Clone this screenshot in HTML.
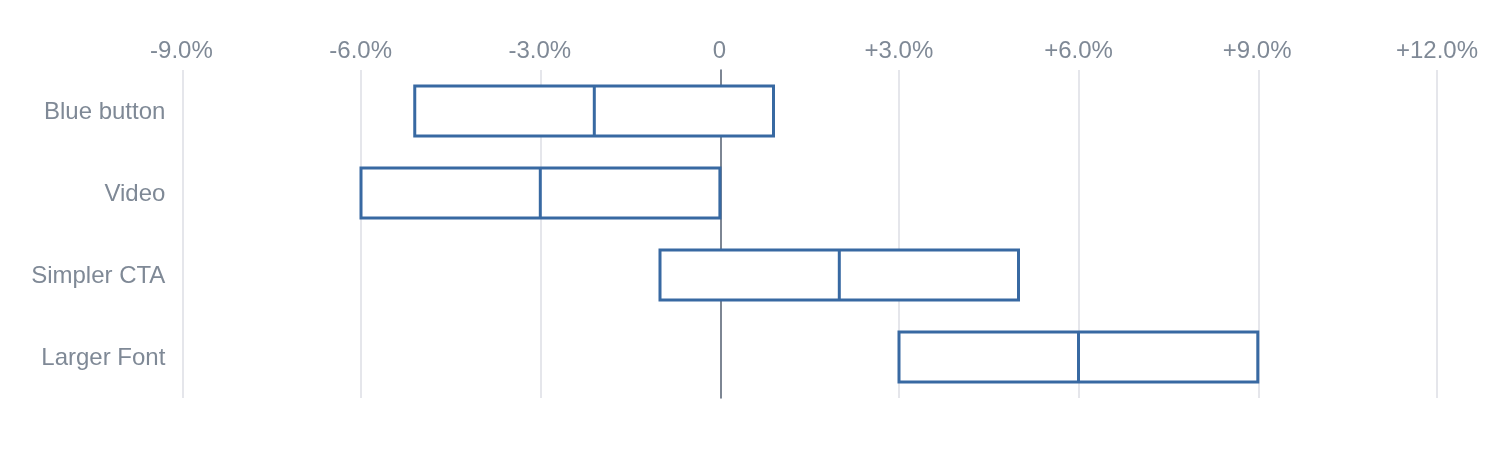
<!DOCTYPE html>
<html lang="en">
<head>
<meta charset="utf-8">
<title>Chart</title>
<style>
html,body{margin:0;padding:0;background:#fff;}
body{width:1512px;height:458px;overflow:hidden;}
svg{display:block;}
text{font-family:"Liberation Sans",Arial,Helvetica,sans-serif;font-size:24px;fill:#7f8996;}
.g{fill:#e5e6eb;shape-rendering:crispEdges;}
.z{fill:#7d8693;shape-rendering:crispEdges;}
.b{fill:#fff;stroke:#3869a2;stroke-width:3;}
.m{stroke:#3869a2;stroke-width:3;fill:none;}
</style>
</head>
<body>
<svg width="1512" height="458" viewBox="0 0 1512 458">
<rect width="1512" height="458" fill="#fff"/>
<g>
<rect class="g" x="182" y="70" width="2" height="328"/>
<rect class="g" x="360" y="70" width="2" height="328"/>
<rect class="g" x="540" y="70" width="2" height="328"/>
<rect x="720" y="69" width="2" height="1" fill="#b9bfc9" shape-rendering="crispEdges"/>
<rect x="720" y="398" width="2" height="1" fill="#b9bfc9" shape-rendering="crispEdges"/>
<rect class="z" x="720" y="70" width="2" height="328"/>
<rect class="g" x="898" y="70" width="2" height="328"/>
<rect class="g" x="1078" y="70" width="2" height="328"/>
<rect class="g" x="1258" y="70" width="2" height="328"/>
<rect class="g" x="1436" y="70" width="2" height="328"/>
</g>
<g text-anchor="middle">
<text x="181.4" y="58">-9.0%</text>
<text x="360.65" y="58">-6.0%</text>
<text x="539.8" y="58">-3.0%</text>
<text x="719.5" y="58">0</text>
<text x="898.9" y="58">+3.0%</text>
<text x="1078.5" y="58">+6.0%</text>
<text x="1257.2" y="58">+9.0%</text>
<text x="1437" y="58">+12.0%</text>
</g>
<g text-anchor="end">
<text x="165.4" y="119">Blue button</text>
<text x="165.4" y="201">Video</text>
<text x="165.4" y="283">Simpler CTA</text>
<text x="165.4" y="365">Larger Font</text>
</g>
<g>
<rect class="b" x="414.75" y="86" width="358.75" height="50"/>
<line class="m" x1="594.3" y1="86" x2="594.3" y2="136"/>
<rect class="b" x="361" y="168" width="358.9" height="50"/>
<line class="m" x1="540.3" y1="168" x2="540.3" y2="218"/>
<rect class="b" x="660" y="250" width="358.5" height="50"/>
<line class="m" x1="839.3" y1="250" x2="839.3" y2="300"/>
<rect class="b" x="899" y="332" width="358.8" height="50"/>
<line class="m" x1="1078.5" y1="332" x2="1078.5" y2="382"/>
</g>
</svg>
</body>
</html>
